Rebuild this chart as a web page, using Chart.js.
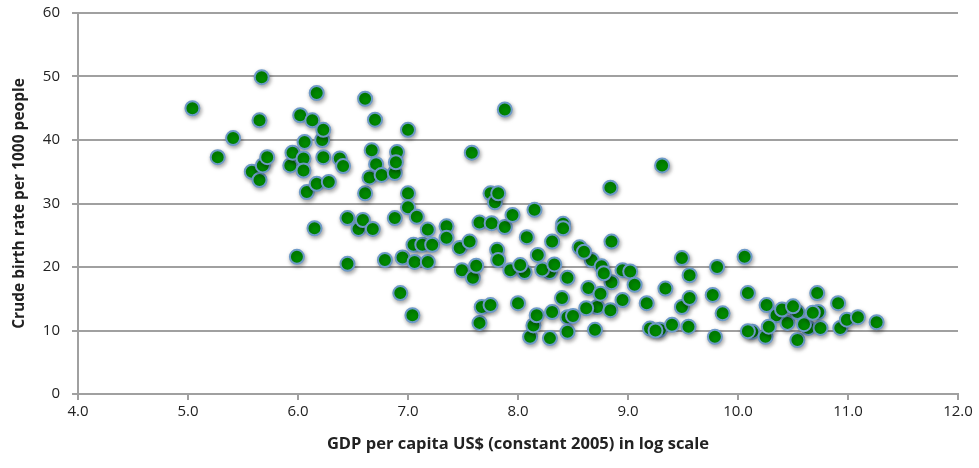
<!DOCTYPE html>
<html>
<head>
<meta charset="utf-8">
<script src="https://cdn.jsdelivr.net/npm/chart.js@4/dist/chart.umd.min.js"></script>
<style>
  html, body { margin: 0; padding: 0; background: #fff; }
  #wrap { width: 979px; height: 468px; }
</style>
</head>
<body>
<div id="wrap"><canvas id="c" width="979" height="468"></canvas></div>
<script>
// GDP per capita (log scale) per country
const gdpLog = [
  5.04, 5.27, 5.41, 5.58, 5.65, 5.67, 5.65, 5.68, 5.72, 5.93,
  5.95, 5.99, 6.02, 6.06, 6.05, 6.05, 6.08, 6.13, 6.17, 6.17,
  6.15, 6.22, 6.23, 6.23, 6.28, 6.38, 6.41, 6.45, 6.45, 6.55,
  6.59, 6.61, 6.61, 6.65, 6.68, 6.67, 6.70, 6.71, 6.76, 6.79,
  6.88, 6.88, 6.90, 6.89, 6.93, 6.95, 7.00, 7.00, 7.00, 7.04,
  7.05, 7.06, 7.08, 7.13, 7.18, 7.18, 7.22, 7.35, 7.35, 7.47,
  7.49, 7.56, 7.58, 7.59, 7.62, 7.65, 7.65, 7.67, 7.75, 7.75,
  7.76, 7.79, 7.82, 7.81, 7.82, 7.88, 7.88, 7.93, 7.95, 8.00,
  8.06, 8.08, 8.11, 8.14, 8.15, 8.17, 8.18, 8.29, 8.29, 8.31,
  8.31, 8.40, 8.41, 8.41, 8.45, 8.45, 8.45, 8.50, 8.56, 8.64,
  8.67, 8.70, 8.72, 8.76, 8.84, 8.85, 8.85, 8.84, 8.95, 8.95,
  8.60, 8.75, 8.78, 8.62, 9.02, 9.06, 9.17, 9.20, 9.29, 9.31,
  9.34, 9.40, 9.49, 9.49, 9.56, 9.56, 9.55, 9.77, 9.81, 9.79,
  9.86, 10.06, 10.09, 10.13, 10.09, 10.26, 10.25, 10.35, 10.45, 10.54,
  10.54, 10.64, 10.72, 10.73, 10.75, 10.91, 10.93, 10.99, 11.09, 11.26,
  10.40, 10.50, 10.28, 10.60, 10.68, 9.25, 8.02, 8.22, 8.33
];

// Crude birth rate per 1000 people, same order as gdpLog
const birthRate = [
  45.0, 37.3, 40.3, 35.0, 43.1, 49.9, 33.7, 36.0, 37.3, 36.0,
  38.0, 21.6, 43.9, 39.7, 37.1, 35.2, 31.8, 43.1, 47.4, 33.1,
  26.1, 40.0, 41.6, 37.3, 33.4, 37.1, 35.9, 27.7, 20.5, 26.0,
  27.4, 46.5, 31.6, 34.1, 26.0, 38.4, 43.2, 36.2, 34.5, 21.1,
  34.8, 27.7, 38.1, 36.5, 15.9, 21.5, 41.6, 31.6, 29.4, 12.4,
  23.5, 20.8, 27.9, 23.5, 25.9, 20.8, 23.5, 26.4, 24.6, 23.0,
  19.5, 24.0, 38.0, 18.3, 20.2, 27.0, 11.2, 13.7, 14.0, 31.6,
  26.9, 30.2, 31.6, 22.7, 21.1, 26.3, 44.8, 19.5, 28.2, 14.3,
  19.2, 24.7, 9.0, 10.8, 29.0, 12.4, 21.9, 19.2, 8.8, 24.0,
  12.9, 15.1, 26.8, 26.1, 18.3, 12.1, 9.8, 12.3, 23.1, 16.7,
  21.1, 10.1, 13.7, 20.1, 32.5, 24.0, 17.6, 13.2, 19.5, 14.8,
  22.4, 15.8, 19.0, 13.5, 19.3, 17.2, 14.3, 10.3, 10.1, 36.0,
  16.6, 10.9, 21.4, 13.7, 18.7, 15.1, 10.6, 15.6, 20.0, 9.0,
  12.7, 21.6, 15.9, 9.8, 9.9, 14.0, 9.0, 12.4, 11.2, 12.9,
  8.5, 10.4, 15.9, 12.9, 10.4, 14.3, 10.4, 11.7, 12.1, 11.3,
  13.3, 13.8, 10.6, 11.0, 12.8, 10.0, 20.3, 19.6, 20.4
];

const xTicks = [4, 5, 6, 7, 8, 9, 10, 11, 12];
const yTicks = [0, 10, 20, 30, 40, 50, 60];

const points = gdpLog.map((x, i) => ({ x: x, y: birthRate[i] }));

const FONT = "'Open Sans', 'Liberation Sans', sans-serif";
const AXIS_GRAY = '#a0a0a0';

// soft drop shadow under the markers
const markerShadow = {
  id: 'markerShadow',
  beforeDatasetsDraw(chart) {
    const ctx = chart.ctx;
    ctx.save();
    ctx.shadowColor = 'rgba(0,0,0,0.35)';
    ctx.shadowBlur = 4;
    ctx.shadowOffsetX = 1;
    ctx.shadowOffsetY = 2;
  },
  afterDatasetsDraw(chart) {
    chart.ctx.restore();
  }
};

new Chart(document.getElementById('c'), {
  type: 'scatter',
  data: {
    datasets: [{
      data: points,
      backgroundColor: '#008a00',
      borderColor: '#6d9ac8',
      borderWidth: 2,
      pointRadius: 7,
      pointHoverRadius: 7
    }]
  },
  options: {
    responsive: false,
    devicePixelRatio: 1,
    animation: false,
    layout: { padding: { left: 10, right: 21, top: 13, bottom: 14 } },
    plugins: {
      legend: { display: false },
      tooltip: { enabled: false }
    },
    scales: {
      x: {
        type: 'linear',
        min: 4,
        max: 12,
        afterBuildTicks(scale) { scale.ticks = xTicks.map(v => ({ value: v })); },
        afterFit(scale) { scale.height = 60; scale.paddingLeft = 0; scale.paddingRight = 0; },
        ticks: {
          callback: v => v.toFixed(1),
          color: '#222',
          font: { family: FONT, size: 15 },
          padding: 3,
          maxRotation: 0
        },
        grid: {
          drawOnChartArea: false,
          drawTicks: true,
          tickLength: 6,
          color: AXIS_GRAY,
          lineWidth: 2
        },
        border: { color: AXIS_GRAY, width: 2 },
        title: {
          display: true,
          text: 'GDP per capita US$ (constant 2005) in log scale',
          color: '#222',
          font: { family: FONT, size: 16.5, weight: 'bold' },
          padding: { top: 8, bottom: 0 }
        }
      },
      y: {
        min: 0,
        max: 60,
        afterBuildTicks(scale) { scale.ticks = yTicks.map(v => ({ value: v })); },
        afterFit(scale) { scale.width = 68; scale.paddingTop = 0; scale.paddingBottom = 0; },
        ticks: {
          color: '#222',
          font: { family: FONT, size: 15 },
          padding: 12
        },
        grid: {
          drawOnChartArea: true,
          drawTicks: true,
          tickLength: 6,
          color: AXIS_GRAY,
          lineWidth: 2
        },
        border: { color: AXIS_GRAY, width: 2 },
        title: {
          display: true,
          text: 'Crude birth rate per 1000 people',
          color: '#222',
          font: { family: FONT, size: 15.5, weight: 'bold' },
          padding: { top: 0, bottom: 4 }
        }
      }
    }
  },
  plugins: [markerShadow]
});
</script>
</body>
</html>
